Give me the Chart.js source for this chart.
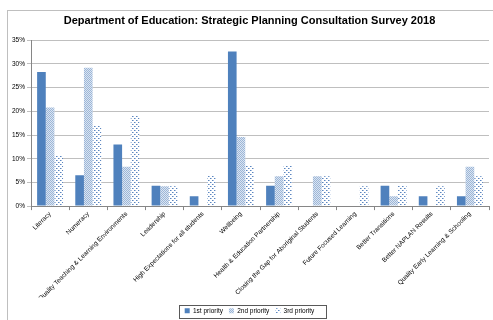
<!DOCTYPE html>
<html>
<head>
<meta charset="utf-8">
<script src="https://cdn.jsdelivr.net/npm/chart.js@4.4.1/dist/chart.umd.min.js"></script>
<style>
  html, body { margin: 0; padding: 0; background: #fff; }
  #wrap { width: 493px; height: 320px; position: relative; }
</style>
</head>
<body>
<div id="wrap"><canvas id="chart"></canvas></div>
<script>
const categories = [
    "Literacy",
    "Numeracy",
    "Quality Teaching & Learning Environments",
    "Leadership",
    "High Expectations for all students",
    "Wellbeing",
    "Health & Education Partnership",
    "Closing the Gap for Aboriginal Students",
    "Future Focused Learning",
    "Better Transitions",
    "Better NAPLAN Results",
    "Quality Early Learning & Schooling"
];
const firstPriority = [28.3, 6.5, 13.0, 4.3, 2.1, 32.6, 4.3, 0, 0, 4.3, 2.1, 2.1];
const secondPriority = [20.8, 29.2, 8.3, 4.2, 0, 14.6, 6.3, 6.3, 0, 2.1, 0, 8.3];
const thirdPriority = [10.6, 17.0, 19.1, 4.2, 6.4, 8.5, 8.5, 6.3, 4.2, 4.3, 4.2, 6.3];
const seriesNames = ["1st priority", "2nd priority", "3rd priority"];

// small tiled fills to mimic the office-style patterns
const makePattern = (size, draw) => {
    const c = document.createElement('canvas');
    c.width = size;
    c.height = size;
    const g = c.getContext('2d');
    draw(g);
    return g.createPattern(c, 'repeat');
};

const ctx = document.getElementById('chart').getContext('2d');

const checkerFill = makePattern(2, g => {
    g.fillStyle = '#dbe5f1';
    g.fillRect(0, 0, 2, 2);
    g.fillStyle = '#9cb6d8';
    g.fillRect(0, 0, 1, 1);
    g.fillRect(1, 1, 1, 1);
});

const dotFill = makePattern(4, g => {
    g.fillStyle = '#ffffff';
    g.fillRect(0, 0, 4, 4);
    g.fillStyle = '#5b86c0';
    g.fillRect(0, 0, 1, 1);
    g.fillRect(2, 2, 1, 1);
    g.fillStyle = '#a9c0df';
    g.fillRect(1, 0, 1, 1);
    g.fillRect(3, 2, 1, 1);
});

const LEGEND_SHIFT = 4;

const framePlugin = {
    id: 'frame',
    afterLayout(chart) {
        // nudge the legend down towards the bottom edge
        chart.legend.top += LEGEND_SHIFT;
        chart.legend.bottom += LEGEND_SHIFT;
    },
    beforeDraw(chart) {
        const c = chart.ctx;
        c.save();
        c.strokeStyle = '#bfbfbf';
        c.lineWidth = 1;
        c.strokeRect(7.5, 10.5, 600, 400);
        c.restore();
    },
    afterDraw(chart) {
        // box only around the legend items, like the spreadsheet legend
        const boxes = chart.legend.legendHitBoxes;
        if (!boxes || !boxes.length) return;
        const left = Math.min(...boxes.map(b => b.left)) - 6;
        const right = Math.max(...boxes.map(b => b.left + b.width)) + 11;
        const top = Math.min(...boxes.map(b => b.top)) - 3;
        const bottom = Math.max(...boxes.map(b => b.top + b.height)) + 3;
        const c = chart.ctx;
        c.save();
        c.strokeStyle = '#595959';
        c.lineWidth = 1;
        c.strokeRect(Math.round(left) + 0.5, Math.round(top) + 0.5, Math.round(right - left), Math.round(bottom - top));
        c.restore();
    }
};

const data = {
    labels: categories,
    datasets: [
        {label: seriesNames[0], data: firstPriority, backgroundColor: '#4f81bd'},
        {label: seriesNames[1], data: secondPriority, backgroundColor: checkerFill},
        {label: seriesNames[2], data: thirdPriority, backgroundColor: dotFill}
    ]
};

const options = {
    responsive: true,
    maintainAspectRatio: false,
    animation: false,
    layout: {padding: {left: 10, right: 4, top: 12, bottom: 0}},
    datasets: {bar: {barPercentage: 1, categoryPercentage: 0.68, borderWidth: 0}},
    scales: {
        x: {
            afterFit: s => { s.height -= 5; },
            grid: {drawOnChartArea: false, drawTicks: true, tickLength: 4, color: '#868686'},
            border: {color: '#868686'},
            ticks: {
                color: '#000',
                font: {family: 'Liberation Sans', size: 6.5},
                minRotation: 45,
                maxRotation: 45,
                autoSkip: false,
                padding: 0
            }
        },
        y: {
            min: 0,
            max: 35,
            grid: {color: '#bfbfbf', tickLength: 4},
            border: {color: '#868686'},
            ticks: {
                stepSize: 5,
                color: '#000',
                font: {family: 'Liberation Sans', size: 6.5},
                padding: 2,
                callback: v => v + '%'
            }
        }
    },
    plugins: {
        title: {
            display: true,
            text: 'Department of Education: Strategic Planning Consultation Survey 2018',
            color: '#000',
            font: {family: 'Liberation Sans', size: 11, weight: 'bold'},
            padding: {top: 2, bottom: 13}
        },
        legend: {
            position: 'bottom',
            labels: {
                color: '#000',
                font: {family: 'Liberation Sans', size: 6.5},
                boxWidth: 5,
                boxHeight: 5,
                padding: 6
            }
        },
        tooltip: {enabled: false}
    }
};

new Chart(ctx, {type: 'bar', data: data, options: options, plugins: [framePlugin]});
</script>
</body>
</html>
